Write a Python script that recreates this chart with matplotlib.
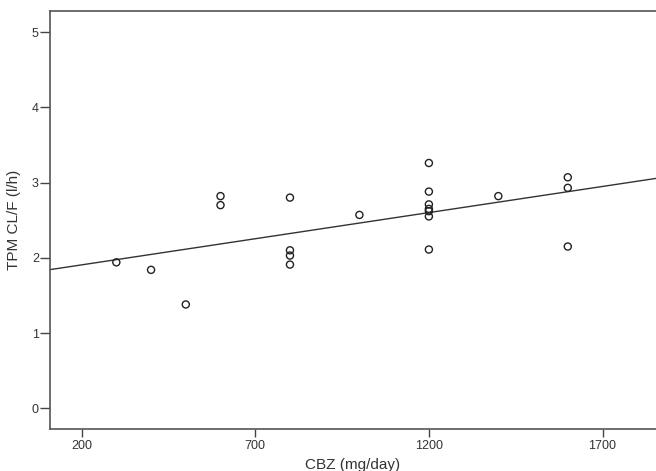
import numpy as np
import matplotlib
matplotlib.use("Agg")
import matplotlib.pyplot as plt

# CBZ dose (mg/day) vs TPM CL/F (l/h)
cbz_dose = [300, 400, 500, 600, 600, 800, 800, 800, 800, 1000,
            1200, 1200, 1200, 1200, 1200, 1200, 1200, 1400, 1600, 1600, 1600]
tpm_clf = [1.94, 1.84, 1.38, 2.82, 2.70, 2.80, 2.10, 2.03, 1.91, 2.57,
           3.26, 2.88, 2.71, 2.65, 2.62, 2.55, 2.11, 2.82, 3.07, 2.93, 2.15]

x_ticks = [200, 700, 1200, 1700]
y_ticks = [0, 1, 2, 3, 4, 5]

plt.rcParams['font.family'] = ['Liberation Sans', 'DejaVu Sans']

fig = plt.figure(figsize=(6.56, 4.71), dpi=100)
ax = fig.add_axes([50 / 656, 42 / 471, 606 / 656, 418 / 471])

ax.scatter(cbz_dose, tpm_clf, s=26, facecolors='none', edgecolors='#222222',
           linewidths=1.0, zorder=3)

# linear fit line across the full x range
slope, intercept = np.polyfit(cbz_dose, tpm_clf, 1)
xl = np.array([109, 1854])
ax.plot(xl, intercept + slope * xl, color='#333333', lw=1.0, zorder=2)

ax.set_xlim(109, 1854)
ax.set_ylim(-0.275, 5.28)
ax.set_xticks(x_ticks)
ax.set_yticks(y_ticks)
ax.tick_params(direction='out', width=1, colors='#444444',
               labelcolor='#333333', labelsize=9)
ax.tick_params(axis='x', length=6, pad=2)
ax.tick_params(axis='y', length=7, pad=1)
ax.spines['right'].set_visible(False)
for s in ['left', 'top', 'bottom']:
    ax.spines[s].set_color('#555555')
    ax.spines[s].set_linewidth(1.2)

ax.set_xlabel('CBZ (mg/day)', fontsize=11, color='#333333', labelpad=4)
ax.set_ylabel('TPM CL/F (l/h)', fontsize=11, color='#333333', labelpad=8)

fig.savefig('out.png', dpi=100)
